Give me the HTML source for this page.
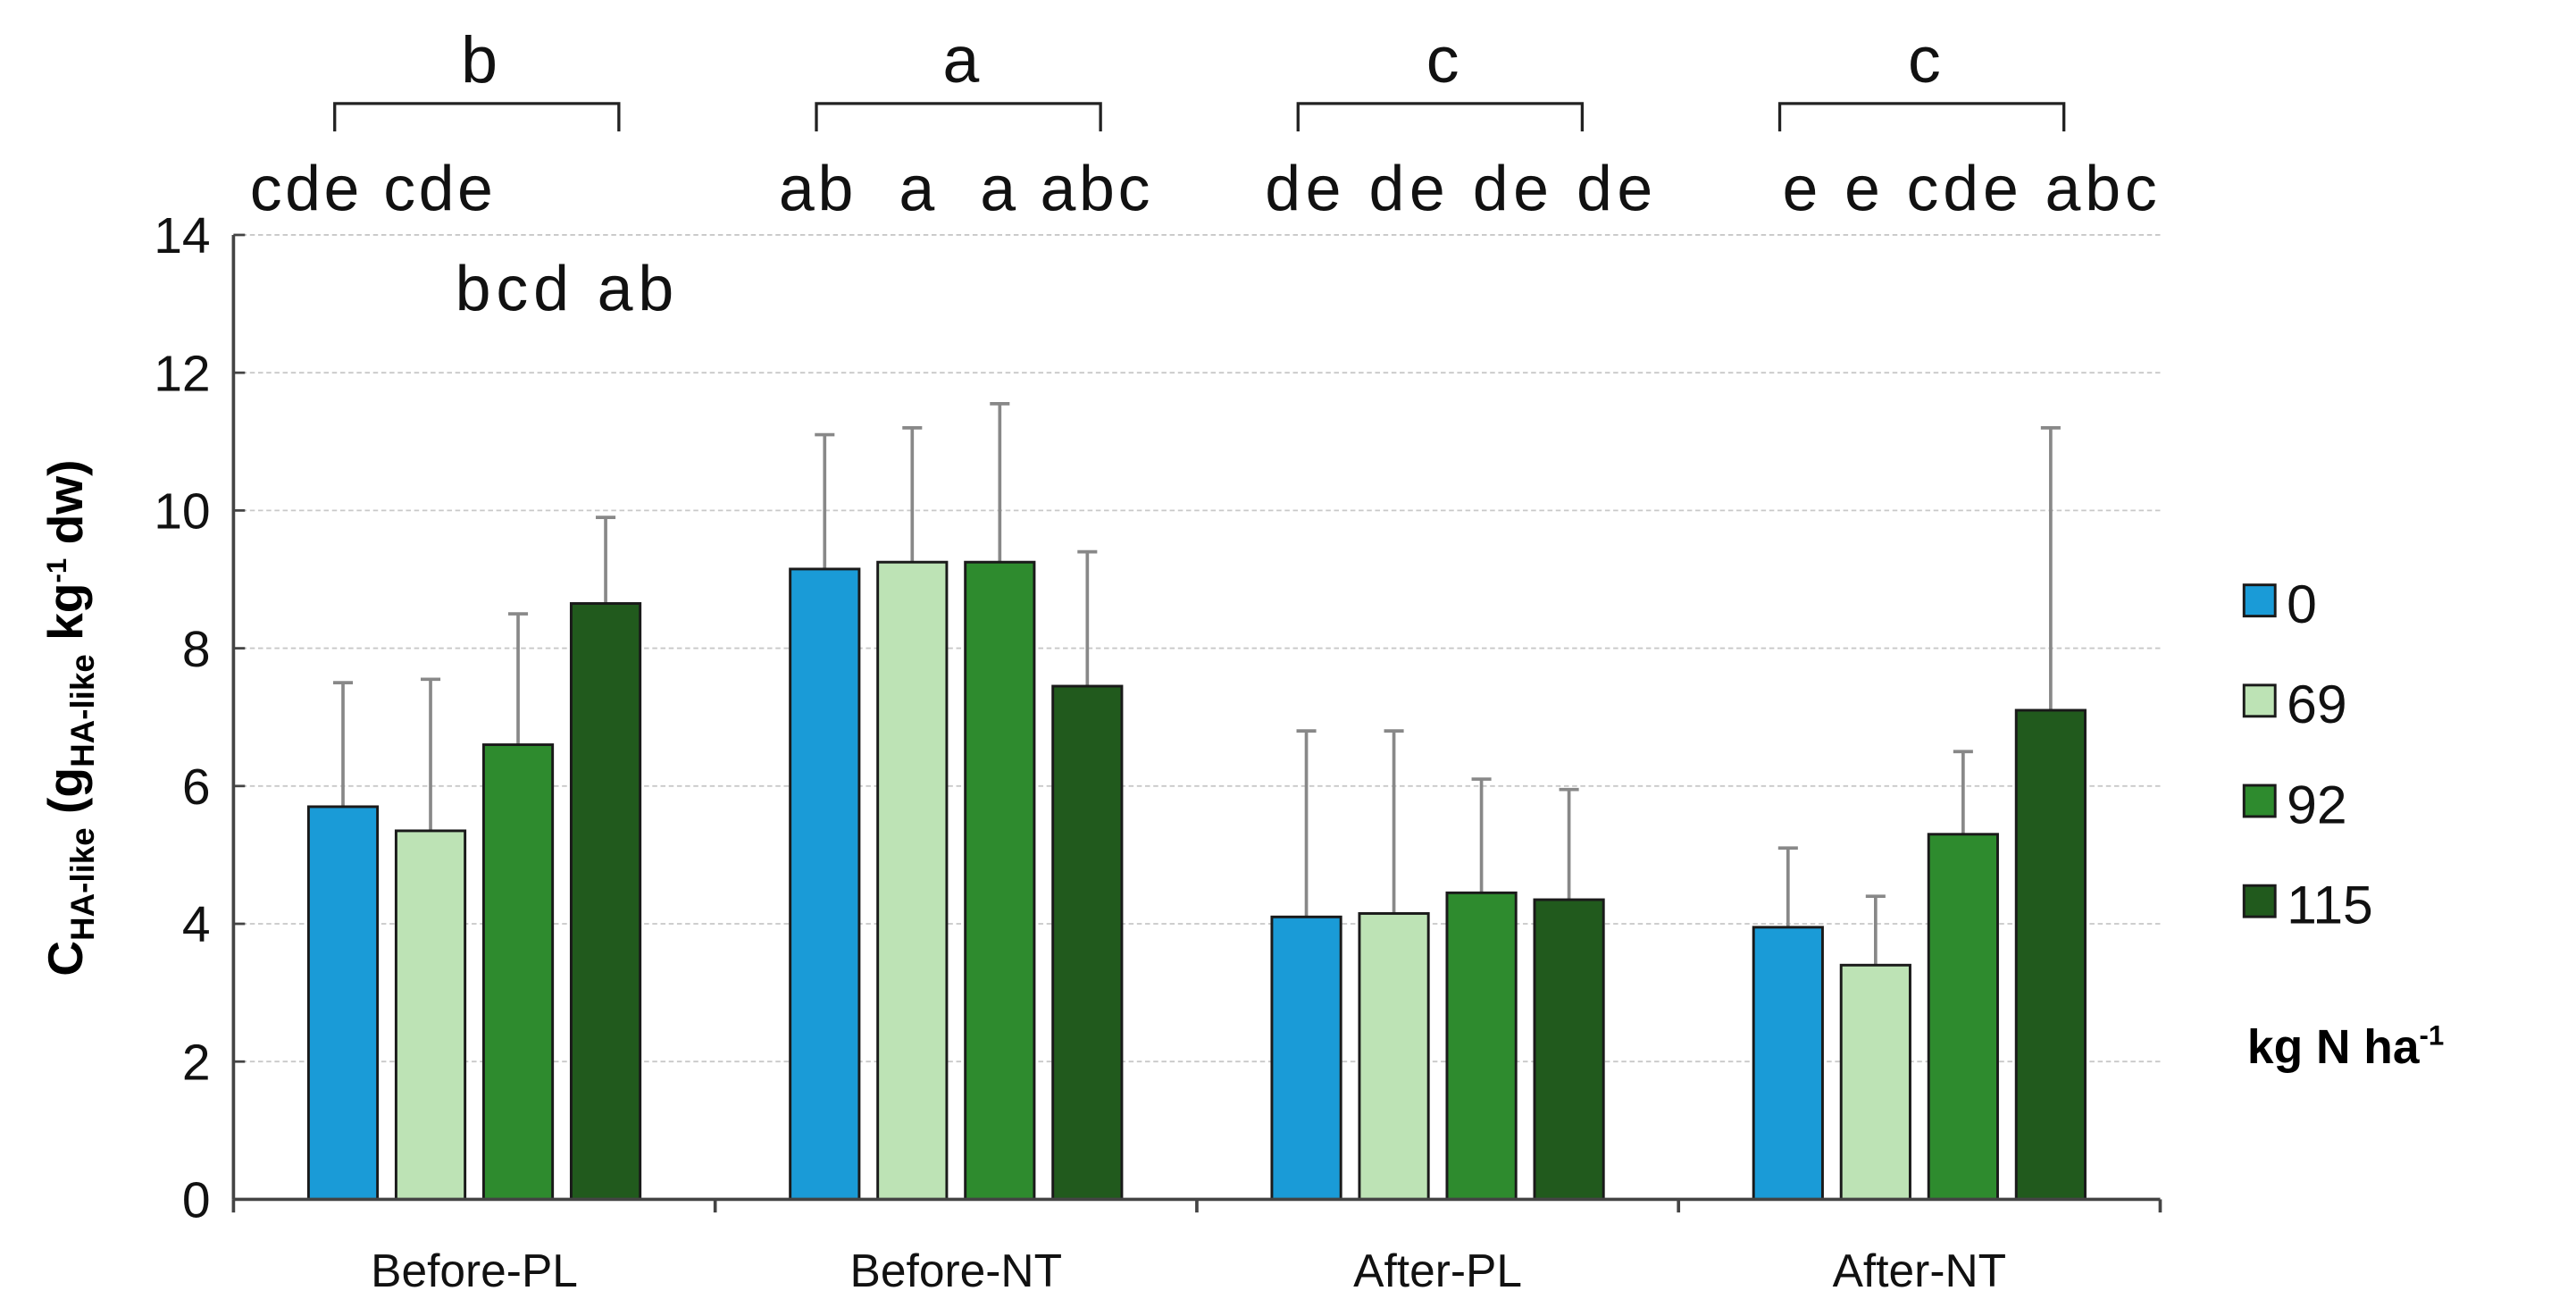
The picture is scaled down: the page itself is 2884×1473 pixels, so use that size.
<!DOCTYPE html>
<html><head><meta charset="utf-8"><style>
html,body{margin:0;padding:0;background:#fff;}
svg{display:block;font-family:"Liberation Sans",Arial,sans-serif;}
</style></head><body>
<svg id="chart" width="2884" height="1473" viewBox="0 0 1568 801" xmlns="http://www.w3.org/2000/svg">
<g id="grid"></g>
<g id="bars"></g>
<g id="axes"></g>
<g id="letters"></g>
<text transform="translate(50,437) rotate(-90)" text-anchor="middle" font-weight="bold" font-size="30">C<tspan font-size="20" dy="7">HA-like</tspan><tspan dy="-7"> (g</tspan><tspan font-size="20" dy="7">HA-like</tspan><tspan dy="-7"> kg</tspan><tspan font-size="17" dy="-10">-1</tspan><tspan dy="10"> dw)</tspan></text>
<g id="legend"></g>
<text x="1368" y="647" font-weight="bold" font-size="29">kg N ha<tspan font-size="17" dy="-11">-1</tspan></text>
</svg>
<script>
const categories = ["Before-PL","Before-NT","After-PL","After-NT"];
const seriesNames = ["0","69","92","115"];
const colors = ["#1a9bd7","#bde3b5","#2e8b2e","#215a1d"];
const s0 = [5.7, 9.15, 4.1, 3.95];
const s69 = [5.35, 9.25, 4.15, 3.4];
const s92 = [6.6, 9.25, 4.45, 5.3];
const s115 = [8.65, 7.45, 4.35, 7.1];
const e0 = [7.5, 11.1, 6.8, 5.1];
const e69 = [7.55, 11.2, 6.8, 4.4];
const e92 = [8.5, 11.55, 6.1, 6.5];
const e115 = [9.9, 9.4, 5.95, 11.2];
const yTicks = [0,2,4,6,8,10,12,14];
const groupLetters = ["b","a","c","c"];
const barLetters = ["cde cde","ab  a  a abc","de de de de","e e cde abc"];
const series = [s0,s69,s92,s115];
const errs = [e0,e69,e92,e115];
const NS="http://www.w3.org/2000/svg";
const X0=142, X1=1315, Y0=730, Y14=143;
const gw=(X1-X0)/categories.length;
function y(v){return Y0-(v/14)*(Y0-Y14);}
function gx(i){return X0+gw*i;}
function mk(tag,attrs,parent,txt){const e=document.createElementNS(NS,tag);for(const k in attrs)e.setAttribute(k,attrs[k]);if(txt!==undefined)e.textContent=txt;parent.appendChild(e);return e;}
const grid=document.getElementById('grid'),bars=document.getElementById('bars'),axes=document.getElementById('axes'),letters=document.getElementById('letters'),legend=document.getElementById('legend');
yTicks.forEach(t=>{
  if(t>0){const l=mk('line',{x1:X0,x2:X1,y1:y(t),y2:y(t),stroke:'#c8c8c8','stroke-width':1,'stroke-dasharray':'3,2'},grid);
  
  }
  const tk=mk('line',{x1:X0,x2:X0+7,y1:y(t),y2:y(t),stroke:'#444','stroke-width':1.5},axes);
  
  
  const tl=mk('text',{x:X0-14,y:y(t)+11,'text-anchor':'end','font-size':31,fill:'#111'},axes,String(t));
  
  
});
const bw=42, pitch=53.3;
const letterRowLeft=[152,474,770,1085], letterRowRight=[300,700,1006,1313];
categories.forEach((c,i)=>{
  const cx=gx(i)+gw/2;
  series.forEach((s,j)=>{
    const bx=cx-2*pitch+j*pitch+(pitch-bw)/2;
    const ex=bx+bw/2;
    const el=mk('line',{x1:ex,x2:ex,y1:y(errs[j][i]),y2:y(s[i]),stroke:'#888','stroke-width':2},bars);
    
    
    const ec=mk('line',{x1:ex-6,x2:ex+6,y1:y(errs[j][i]),y2:y(errs[j][i]),stroke:'#888','stroke-width':2},bars);
    
    
    const r=mk('rect',{x:bx,y:y(s[i]),width:bw,height:Y0-y(s[i]),fill:colors[j],stroke:'#1a1a1a','stroke-width':1.6},bars);
    
    
  });
  const cl=mk('text',{x:cx,y:783,'text-anchor':'middle','font-size':28,fill:'#111'},axes,c);
  
  
  const bl=cx-85, br=cx+88;
  const p=mk('path',{d:`M${bl},80 L${bl},63 L${br},63 L${br},80`,fill:'none',stroke:'#222','stroke-width':1.8},letters);
  
  
  const gl=mk('text',{x:cx+3,y:50,'text-anchor':'middle','font-size':40,fill:'#111'},letters,groupLetters[i]);
  
  
  const bt=mk('text',{x:letterRowLeft[i],y:128,'font-size':39,fill:'#111',textLength:letterRowRight[i]-letterRowLeft[i],lengthAdjust:'spacing'},letters,barLetters[i]);
  bt.setAttribute('style','white-space:pre');
  
  
});
const extra=mk('text',{x:277,y:189,'font-size':39,fill:'#111',textLength:133,lengthAdjust:'spacing'},letters,'bcd ab');


const ya=mk('line',{x1:X0,x2:X0,y1:Y14,y2:Y0,stroke:'#444','stroke-width':2},axes);


const xa=mk('line',{x1:X0,x2:X1,y1:Y0,y2:Y0,stroke:'#444','stroke-width':2},axes);


for(let i=0;i<=categories.length;i++){
  const t=mk('line',{x1:gx(i),x2:gx(i),y1:Y0,y2:Y0+8,stroke:'#444','stroke-width':2},axes);
  
  
}
seriesNames.forEach((n,j)=>{
  const ly=367+j*61;
  const sq=mk('rect',{x:1366,y:ly-11,width:19,height:19,fill:colors[j],stroke:'#1a1a1a','stroke-width':1.6},legend);
  
  
  const lt=mk('text',{x:1392,y:ly+12,'font-size':33,fill:'#111'},legend,n);
  
  
});
</script>
</body></html>
